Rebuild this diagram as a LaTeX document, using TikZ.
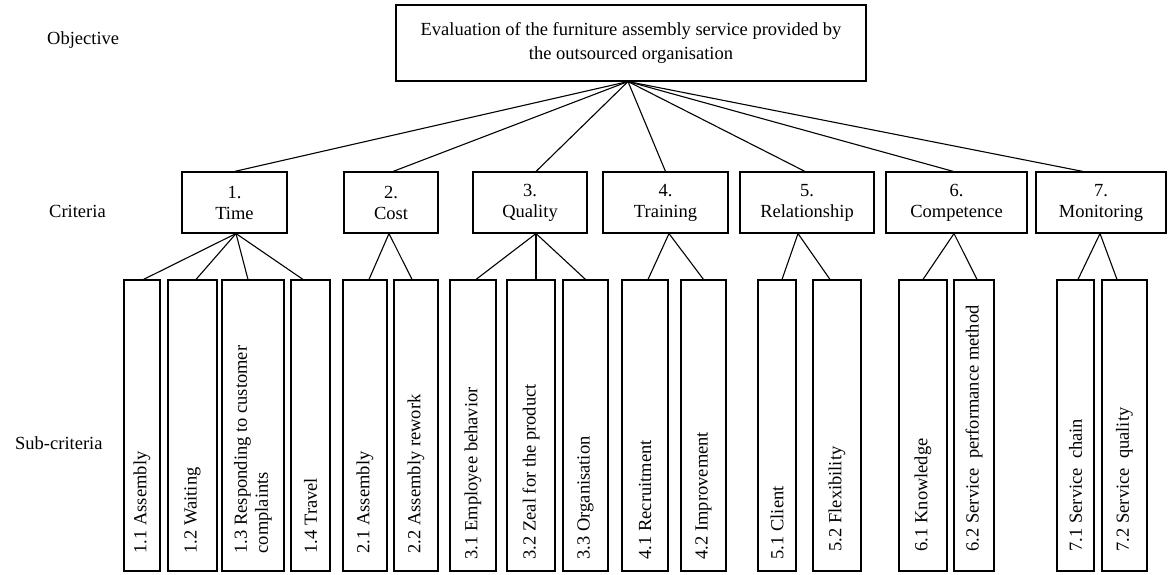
\documentclass[tikz,border=0pt]{standalone}
\usepackage{fontspec}
\setmainfont{Liberation Serif}
\usetikzlibrary{calc}
\begin{document}
\begin{tikzpicture}[x=1pt,y=-1pt,
  every node/.style={font=\fontsize{18.5}{21}\selectfont, inner sep=3pt},
  box/.style={draw, line width=1.1pt, inner sep=0pt},
  crit/.style={box, minimum height=61pt, align=center},
  subbox/.style={box, minimum height=291pt},
  subtext/.style={rotate=90, anchor=west, align=left, inner sep=2pt},
  link/.style={line width=1.1pt},
  lvl/.style={anchor=west}]
\useasboundingbox (0,0) rectangle (1169,575);

% level labels
\node[lvl] (lobj) at (44,40) {Objective};
\node[lvl] (lcrit) at (46,211) {Criteria};
\node[lvl] (lsub) at (12,443) {Sub-criteria};

% objective
\node[box, minimum width=470pt, minimum height=76pt, align=center,
      font=\fontsize{18.5}{24}\selectfont] (top) at (631,43)
  {Evaluation of the furniture assembly service provided by\\the outsourced organisation};

% criteria
\node[crit, minimum width=105pt] (c1) at (234.5,202.5) {1.\\Time};
\node[crit, minimum width=94pt]  (c2) at (391,202.5) {2.\\Cost};
\node[crit, minimum width=114pt] (c3) at (530,202.5) {3.\\Quality};
\node[crit, minimum width=125pt] (c4) at (665.5,202.5) {4.\\Training};
\node[crit, minimum width=134pt] (c5) at (807,202.5) {5.\\Relationship};
\node[crit, minimum width=141pt] (c6) at (956.5,202.5) {6.\\Competence};
\node[crit, minimum width=130pt] (c7) at (1101,202.5) {7.\\Monitoring};

% objective -> criteria
\draw[link] ([xshift=-3pt]top.south) -- (c1.north);
\draw[link] ([xshift=-3pt]top.south) -- ([xshift=2pt]c2.north);
\draw[link] ([xshift=-3pt]top.south) -- ([xshift=6pt]c3.north);
\draw[link] ([xshift=-3pt]top.south) -- (c4.north);
\draw[link] ([xshift=-3pt]top.south) -- ([xshift=-2pt]c5.north);
\draw[link] ([xshift=-3pt]top.south) -- ([xshift=-3pt]c6.north);
\draw[link] ([xshift=-3pt]top.south) -- ([xshift=-18pt]c7.north);

% sub-criteria boxes
\node[subbox, minimum width=36pt] (s11) at (142,425.5) {};
\node[subbox, minimum width=49pt] (s12) at (192.5,425.5) {};
\node[subbox, minimum width=62pt] (s13) at (253,425.5) {};
\node[subbox, minimum width=39pt] (s14) at (310.5,425.5) {};
\node[subbox, minimum width=44pt] (s21) at (365,425.5) {};
\node[subbox, minimum width=44pt] (s22) at (416,425.5) {};
\node[subbox, minimum width=46pt] (s31) at (473,425.5) {};
\node[subbox, minimum width=48pt] (s32) at (531,425.5) {};
\node[subbox, minimum width=45pt] (s33) at (585.5,425.5) {};
\node[subbox, minimum width=46pt] (s41) at (645,425.5) {};
\node[subbox, minimum width=45pt] (s42) at (703.5,425.5) {};
\node[subbox, minimum width=38pt] (s51) at (777,425.5) {};
\node[subbox, minimum width=48pt] (s52) at (837,425.5) {};
\node[subbox, minimum width=48pt] (s61) at (923,425.5) {};
\node[subbox, minimum width=40pt] (s62) at (974,425.5) {};
\node[subbox, minimum width=37pt] (s71) at (1075.5,425.5) {};
\node[subbox, minimum width=45pt] (s72) at (1124.5,425.5) {};

% sub-criteria texts
\node[subtext] (t11) at ([yshift=16pt]s11.south) {1.1 Assembly};
\node[subtext] (t12) at ([yshift=16pt]s12.south) {1.2 Waiting};
\node[subtext] (t13) at ([yshift=16pt]s13.south) {1.3 Responding to customer\\complaints};
\node[subtext] (t14) at ([yshift=16pt]s14.south) {1.4 Travel};
\node[subtext] (t21) at ([yshift=16pt]s21.south) {2.1 Assembly};
\node[subtext] (t22) at ([yshift=16pt]s22.south) {2.2 Assembly rework};
\node[subtext] (t31) at ([yshift=10pt]s31.south) {3.1 Employee behavior};
\node[subtext] (t32) at ([yshift=10pt]s32.south) {3.2 Zeal for the product};
\node[subtext] (t33) at ([yshift=10pt]s33.south) {3.3 Organisation};
\node[subtext] (t41) at ([yshift=10pt]s41.south) {4.1 Recruitment};
\node[subtext] (t42) at ([yshift=10pt]s42.south) {4.2 Improvement};
\node[subtext] (t51) at ([yshift=10pt]s51.south) {5.1 Client};
\node[subtext] (t52) at ([yshift=18pt]s52.south) {5.2 Flexibility};
\node[subtext] (t61) at ([yshift=18pt]s61.south) {6.1 Knowledge};
\node[subtext] (t62) at ([yshift=18pt]s62.south) {6.2 Service\ \ performance method};
\node[subtext] (t71) at ([yshift=18pt]s71.south) {7.1 Service\ \ chain};
\node[subtext] (t72) at ([yshift=18pt]s72.south) {7.2 Service\ \ quality};

% criteria -> sub-criteria
\draw[link] ([xshift=1.5pt]c1.south) -- ([xshift=1.5pt]s11.north);
\draw[link] ([xshift=1.5pt]c1.south) -- ([xshift=3.5pt]s12.north);
\draw[link] ([xshift=1.5pt]c1.south) -- ([xshift=-5pt]s13.north);
\draw[link] ([xshift=1.5pt]c1.south) -- ([xshift=-7.5pt]s14.north);
\draw[link] ([xshift=-2pt]c2.south) -- ([xshift=4pt]s21.north);
\draw[link] ([xshift=-2pt]c2.south) -- ([xshift=-4pt]s22.north);
\draw[link] ([xshift=6pt]c3.south) -- ([xshift=3pt]s31.north);
\draw[link] ([xshift=6pt]c3.south) -- ([xshift=5pt]s32.north);
\draw[link] ([xshift=6pt]c3.south) -- (s33.north);
\draw[link] ([xshift=3.5pt]c4.south) -- ([xshift=3pt]s41.north);
\draw[link] ([xshift=3.5pt]c4.south) -- (s42.north);
\draw[link] ([xshift=-9pt]c5.south) -- ([xshift=5pt]s51.north);
\draw[link] ([xshift=-9pt]c5.south) -- ([xshift=-7pt]s52.north);
\draw[link] ([xshift=-2.5pt]c6.south) -- (s61.north);
\draw[link] ([xshift=-2.5pt]c6.south) -- ([xshift=3pt]s62.north);
\draw[link] ([xshift=-1pt]c7.south) -- ([xshift=2.5pt]s71.north);
\draw[link] ([xshift=-1pt]c7.south) -- ([xshift=-7.5pt]s72.north);
\end{tikzpicture}
\end{document}
